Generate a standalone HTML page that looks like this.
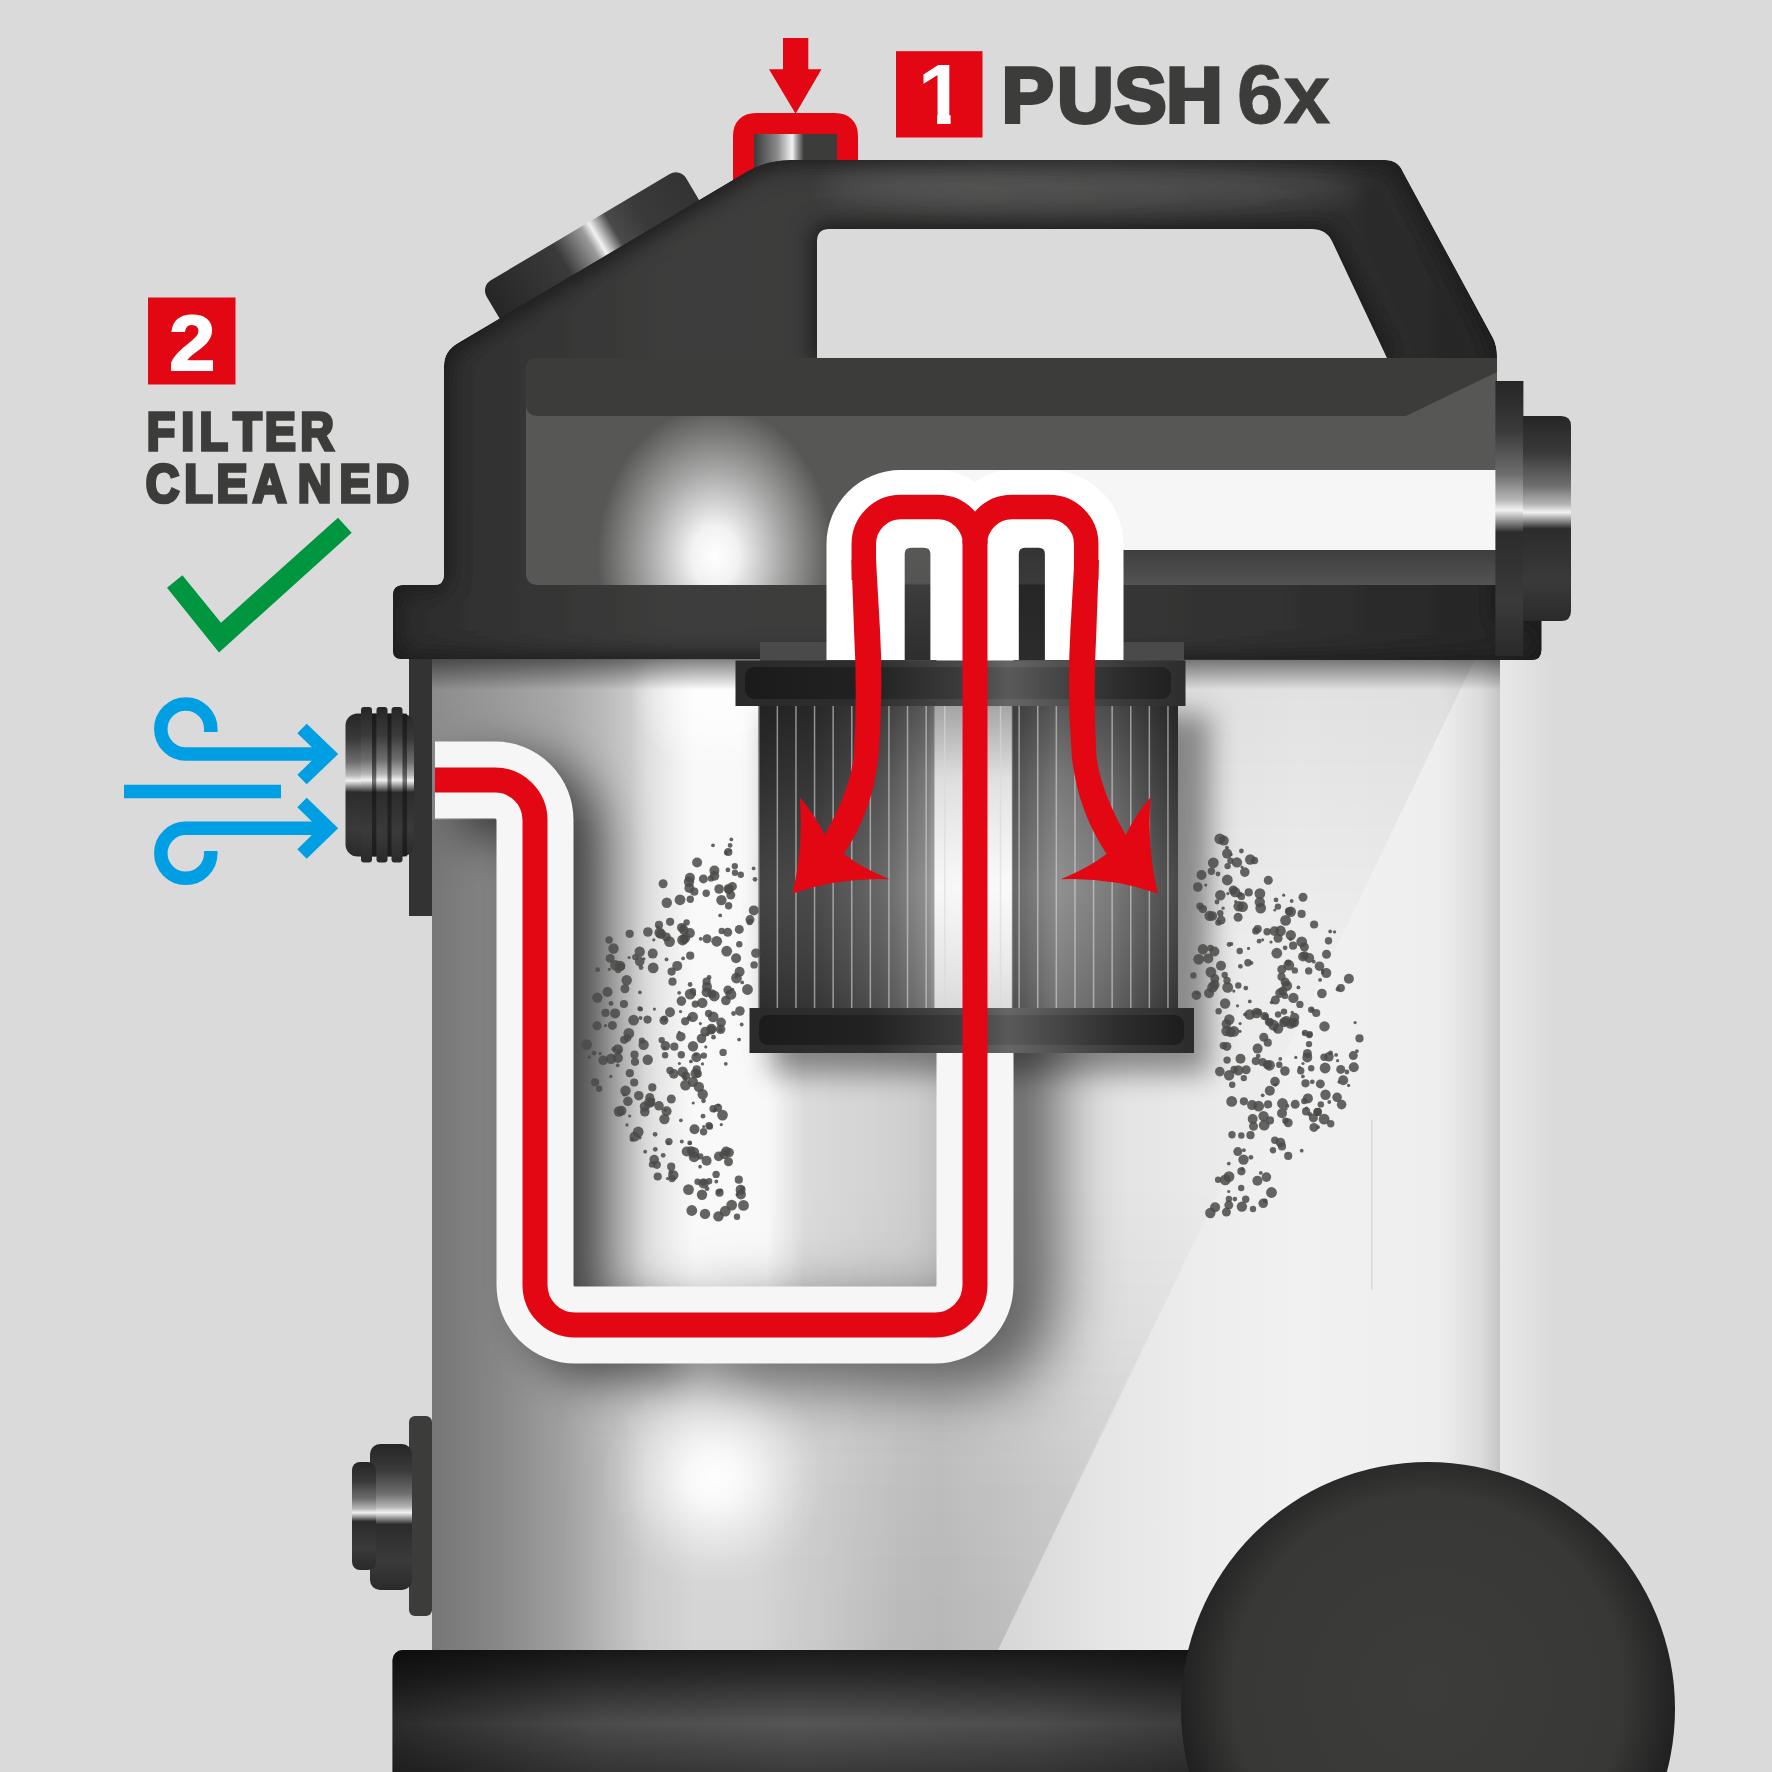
<!DOCTYPE html>
<html><head><meta charset="utf-8"><title>Filter cleaning</title>
<style>html,body{margin:0;padding:0;background:#dadada;overflow:hidden}svg{display:block}</style></head>
<body><svg width="1772" height="1772" viewBox="0 0 1772 1772">
<defs>
<linearGradient id="tank" x1="432" x2="1500" y1="0" y2="0" gradientUnits="userSpaceOnUse">
 <stop offset="0.0000" stop-color="#8c8c8c"/>
 <stop offset="0.0637" stop-color="#9a9a9a"/>
 <stop offset="0.1199" stop-color="#a8a8a8"/>
 <stop offset="0.1601" stop-color="#bababa"/>
 <stop offset="0.2022" stop-color="#d4d4d4"/>
 <stop offset="0.2444" stop-color="#e0e0e0"/>
 <stop offset="0.2931" stop-color="#e0e0e0"/>
 <stop offset="0.3446" stop-color="#dcdcdc"/>
 <stop offset="0.4101" stop-color="#d6d6d6"/>
 <stop offset="0.4757" stop-color="#d0d0d0"/>
 <stop offset="0.5421" stop-color="#d8d8d8"/>
 <stop offset="0.6255" stop-color="#e5e5e5"/>
 <stop offset="0.7191" stop-color="#ededed"/>
 <stop offset="0.8127" stop-color="#f1f1f1"/>
 <stop offset="0.9438" stop-color="#eeeeee"/>
 <stop offset="0.9813" stop-color="#dcdcdc"/>
 <stop offset="1.0000" stop-color="#c6c6c6"/>
</linearGradient>
<linearGradient id="diag" x1="1000" x2="1500" y1="0" y2="0" gradientUnits="userSpaceOnUse">
 <stop offset="0" stop-color="#f4f4f4"/>
 <stop offset="0.7" stop-color="#f0f0f0"/>
 <stop offset="1" stop-color="#e8e8e8"/>
</linearGradient>
<radialGradient id="glowW"><stop offset="0" stop-color="#fff" stop-opacity="1"/><stop offset="0.45" stop-color="#fff" stop-opacity=".6"/><stop offset="1" stop-color="#fff" stop-opacity="0"/></radialGradient>
<linearGradient id="lidsh" x1="0" x2="0" y1="655" y2="690" gradientUnits="userSpaceOnUse"><stop offset="0" stop-color="#000" stop-opacity=".55"/><stop offset="1" stop-color="#000" stop-opacity="0"/></linearGradient>
<linearGradient id="base" x1="0" x2="0" y1="1650" y2="1772" gradientUnits="userSpaceOnUse">
 <stop offset="0" stop-color="#1a1a1a"/><stop offset="0.2" stop-color="#2a2a2a"/><stop offset="0.6" stop-color="#555"/><stop offset="1" stop-color="#3a3a3a"/>
</linearGradient>
<radialGradient id="wheel" cx="1428" cy="1690" r="260" gradientUnits="userSpaceOnUse">
 <stop offset="0" stop-color="#3c3c3b"/><stop offset="0.75" stop-color="#383837"/><stop offset="1" stop-color="#1c1c1c"/>
</radialGradient>
<linearGradient id="lidg" x1="393" x2="1540" y1="0" y2="0" gradientUnits="userSpaceOnUse">
 <stop offset="0" stop-color="#2a2a2a"/><stop offset="0.1" stop-color="#333"/><stop offset="0.25" stop-color="#3d3d3c"/><stop offset="0.5" stop-color="#3b3b3a"/><stop offset="0.8" stop-color="#2f2f2f"/><stop offset="1" stop-color="#232323"/>
</linearGradient>
<linearGradient id="chromeV" x1="0" x2="0" y1="0" y2="1">
 <stop offset="0" stop-color="#262626"/><stop offset="0.18" stop-color="#3a3a3a"/><stop offset="0.34" stop-color="#6e6e6e"/><stop offset="0.43" stop-color="#b4b4b4"/><stop offset="0.47" stop-color="#f2f2f2"/><stop offset="0.55" stop-color="#2c2c2c"/><stop offset="0.8" stop-color="#3a3a3a"/><stop offset="1" stop-color="#2a2a2a"/>
</linearGradient>
<linearGradient id="chromeH" x1="0" x2="1" y1="0" y2="0">
 <stop offset="0" stop-color="#262626"/><stop offset="0.36" stop-color="#3a3a3a"/><stop offset="0.5" stop-color="#9a9a9a"/><stop offset="0.54" stop-color="#f2f2f2"/><stop offset="0.62" stop-color="#4a4a4a"/><stop offset="0.75" stop-color="#3a3a3a"/><stop offset="1" stop-color="#333"/>
</linearGradient>
<linearGradient id="btn" x1="0" x2="1" y1="0" y2="0">
 <stop offset="0" stop-color="#3a3a3a"/><stop offset="0.28" stop-color="#8a8a8a"/><stop offset="0.46" stop-color="#f4f4f4"/><stop offset="0.52" stop-color="#9a9a9a"/><stop offset="0.6" stop-color="#3c3c3b"/><stop offset="1" stop-color="#3c3c3b"/>
</linearGradient>
<radialGradient id="glowP"><stop offset="0" stop-color="#fff" stop-opacity="1"/><stop offset="0.2" stop-color="#fff" stop-opacity=".92"/><stop offset="0.55" stop-color="#fff" stop-opacity=".5"/><stop offset="1" stop-color="#fff" stop-opacity="0"/></radialGradient>
<linearGradient id="dband" x1="0" x2="0" y1="550" y2="586" gradientUnits="userSpaceOnUse"><stop offset="0" stop-color="#3e3e3e"/><stop offset="1" stop-color="#545454"/></linearGradient>
<linearGradient id="filt" x1="758" x2="1178" y1="0" y2="0" gradientUnits="userSpaceOnUse">
 <stop offset="0" stop-color="#333"/><stop offset="0.14" stop-color="#3c3c3c"/><stop offset="0.30" stop-color="#5c5c5c"/><stop offset="0.40" stop-color="#858585"/>
 <stop offset="0.418" stop-color="#9a9a9a"/><stop offset="0.422" stop-color="#f6f6f6"/><stop offset="0.603" stop-color="#fafafa"/><stop offset="0.607" stop-color="#5a5a5a"/>
 <stop offset="0.72" stop-color="#868686"/><stop offset="0.84" stop-color="#707070"/><stop offset="0.95" stop-color="#484848"/><stop offset="1" stop-color="#3a3a3a"/>
</linearGradient>
<linearGradient id="filtV" x1="0" x2="0" y1="702" y2="1010" gradientUnits="userSpaceOnUse">
 <stop offset="0" stop-color="#000" stop-opacity=".35"/><stop offset="0.25" stop-color="#000" stop-opacity=".1"/><stop offset="0.6" stop-color="#fff" stop-opacity=".08"/><stop offset="1" stop-color="#000" stop-opacity=".12"/>
</linearGradient>
<linearGradient id="capg" x1="735" x2="1190" y1="0" y2="0" gradientUnits="userSpaceOnUse">
 <stop offset="0" stop-color="#2a2a2a"/><stop offset="0.3" stop-color="#2e2e2e"/><stop offset="0.5" stop-color="#4a4a4a"/><stop offset="0.6" stop-color="#666"/><stop offset="0.85" stop-color="#3a3a3a"/><stop offset="1" stop-color="#2c2c2c"/>
</linearGradient>
<linearGradient id="capi" x1="735" x2="1190" y1="0" y2="0" gradientUnits="userSpaceOnUse">
 <stop offset="0" stop-color="#1a1a1a"/><stop offset="0.3" stop-color="#222"/><stop offset="0.5" stop-color="#3c3c3c"/><stop offset="0.6" stop-color="#5a5a5a"/><stop offset="0.85" stop-color="#2c2c2c"/><stop offset="1" stop-color="#1c1c1c"/>
</linearGradient>
<linearGradient id="slotL" x1="0" x2="0" y1="547" y2="660" gradientUnits="userSpaceOnUse">
 <stop offset="0" stop-color="#585857"/><stop offset="0.32" stop-color="#545453"/><stop offset="0.34" stop-color="#3c3c3c"/><stop offset="1" stop-color="#2e2e2e"/>
</linearGradient>
<linearGradient id="slotR" x1="0" x2="0" y1="547" y2="660" gradientUnits="userSpaceOnUse">
 <stop offset="0" stop-color="#343434"/><stop offset="0.32" stop-color="#3a3a3a"/><stop offset="0.34" stop-color="#262626"/><stop offset="1" stop-color="#2c2c2c"/>
</linearGradient>
<linearGradient id="slot" x1="0" x2="0" y1="547" y2="660" gradientUnits="userSpaceOnUse">
 <stop offset="0" stop-color="#5a5a5a"/><stop offset="0.35" stop-color="#4a4a4a"/><stop offset="1" stop-color="#3a3a3a"/>
</linearGradient>
<linearGradient id="leftdk" x1="432" x2="607" y1="0" y2="0" gradientUnits="userSpaceOnUse"><stop offset="0" stop-color="#000" stop-opacity=".16"/><stop offset="0.37" stop-color="#000" stop-opacity=".12"/><stop offset="1" stop-color="#000" stop-opacity="0"/></linearGradient>
<linearGradient id="leftdk2" x1="497" x2="607" y1="0" y2="0" gradientUnits="userSpaceOnUse"><stop offset="0" stop-color="#000" stop-opacity=".12"/><stop offset="1" stop-color="#000" stop-opacity="0"/></linearGradient>
<linearGradient id="diagdk" x1="0" x2="0" y1="655" y2="1650" gradientUnits="userSpaceOnUse">
<stop offset="0" stop-color="#000" stop-opacity=".065"/><stop offset="0.3" stop-color="#000" stop-opacity="0.01"/><stop offset="0.52" stop-color="#000" stop-opacity="0.01"/><stop offset="0.75" stop-color="#000" stop-opacity=".05"/><stop offset="1" stop-color="#000" stop-opacity=".07"/></linearGradient>
<linearGradient id="dmaskg" x1="760" x2="900" y1="0" y2="0" gradientUnits="userSpaceOnUse"><stop offset="0" stop-color="#000"/><stop offset="1" stop-color="#fff"/></linearGradient>
<mask id="dmask" maskUnits="userSpaceOnUse" x="432" y="655" width="1068" height="995"><rect x="432" y="655" width="1068" height="995" fill="url(#dmaskg)"/></mask>
<linearGradient id="rstrip" x1="1500" x2="1556" y1="0" y2="0" gradientUnits="userSpaceOnUse"><stop offset="0" stop-color="#e8e8e8"/><stop offset="1" stop-color="#dadada"/></linearGradient>
<filter id="b24" filterUnits="userSpaceOnUse" x="300" y="100" width="1400" height="1672"><feGaussianBlur stdDeviation="24"/></filter>
<filter id="b32" filterUnits="userSpaceOnUse" x="300" y="100" width="1400" height="1672"><feGaussianBlur stdDeviation="32"/></filter>
<linearGradient id="baseL" x1="392" x2="1200" y1="0" y2="0" gradientUnits="userSpaceOnUse"><stop offset="0" stop-color="#000" stop-opacity=".5"/><stop offset="0.25" stop-color="#000" stop-opacity=".12"/><stop offset="0.5" stop-color="#000" stop-opacity="0"/><stop offset="0.8" stop-color="#000" stop-opacity=".1"/><stop offset="1" stop-color="#000" stop-opacity=".3"/></linearGradient>
<linearGradient id="wband" x1="630" x2="820" y1="0" y2="0" gradientUnits="userSpaceOnUse"><stop offset="0" stop-color="#fff" stop-opacity="0"/><stop offset="0.33" stop-color="#fff" stop-opacity=".8"/><stop offset="0.72" stop-color="#fff" stop-opacity=".8"/><stop offset="0.92" stop-color="#fff" stop-opacity="0"/><stop offset="1" stop-color="#fff" stop-opacity="0"/></linearGradient>
<linearGradient id="botdk" x1="0" x2="0" y1="1330" y2="1650" gradientUnits="userSpaceOnUse"><stop offset="0" stop-color="#000" stop-opacity="0"/><stop offset="0.5" stop-color="#000" stop-opacity=".035"/><stop offset="1" stop-color="#000" stop-opacity=".05"/></linearGradient>
<linearGradient id="dmaskg2" x1="540" x2="680" y1="0" y2="0" gradientUnits="userSpaceOnUse"><stop offset="0" stop-color="#000"/><stop offset="1" stop-color="#fff"/></linearGradient>
<mask id="dmask2" maskUnits="userSpaceOnUse" x="432" y="1300" width="1068" height="360"><rect x="432" y="1300" width="1068" height="360" fill="url(#dmaskg2)"/></mask>
<radialGradient id="glowB"><stop offset="0" stop-color="#fff" stop-opacity=".97"/><stop offset="0.22" stop-color="#fff" stop-opacity=".85"/><stop offset="0.55" stop-color="#fff" stop-opacity=".4"/><stop offset="0.8" stop-color="#fff" stop-opacity=".12"/><stop offset="1" stop-color="#fff" stop-opacity="0"/></radialGradient>
<filter id="b8" filterUnits="userSpaceOnUse" x="300" y="100" width="1400" height="1672"><feGaussianBlur stdDeviation="8"/></filter>
<filter id="b14" filterUnits="userSpaceOnUse" x="300" y="100" width="1400" height="1672"><feGaussianBlur stdDeviation="14"/></filter>
<filter id="b20" filterUnits="userSpaceOnUse" x="300" y="100" width="1400" height="1672"><feGaussianBlur stdDeviation="20"/></filter>
<clipPath id="tankclip"><rect x="432" y="655" width="1068" height="995"/></clipPath>
<clipPath id="pclip"><rect x="526" y="358" width="600" height="227" rx="12"/></clipPath>
<clipPath id="lidclip"><path d="M401,659 Q393,659 393,651 V595 Q393,585 403,585 H434 Q444,585 444,575 V366 Q444,351 458,343 L747,171.5 Q767,160 790,160 H1385 Q1398,160 1403,172 L1493,338 Q1497,346 1497,357 V621 H1541.5 V650 Q1541.5,660 1531.5,660 Z M817,358 V241 Q817,229 829,229 H1312 Q1326,229 1332,241 L1387,358 Z" clip-rule="evenodd"/></clipPath><filter id="inset" x="-5%" y="-5%" width="110%" height="110%"><feMorphology in="SourceAlpha" operator="erode" radius="5" result="e"/><feGaussianBlur in="e" stdDeviation="11" result="b"/><feComposite in="SourceGraphic" in2="b" operator="in"/></filter><clipPath id="rimclip"><rect x="380" y="585" width="1200" height="80"/></clipPath></defs>
<rect width="1772" height="1772" fill="#dadada"/>
<rect x="409" y="650" width="27" height="266" fill="#333"/>
<rect x="1500" y="660" width="56" height="990" fill="url(#rstrip)"/>
<g clip-path="url(#tankclip)">
<rect x="432" y="655" width="1068" height="995" fill="url(#tank)"/>
<rect x="630" y="655" width="190" height="640" fill="url(#wband)"/>
<polygon points="1477,655 432,655 432,1650 998,1650" fill="url(#diagdk)" mask="url(#dmask)"/>
<polygon points="1150,1330 520,1330 520,1650 998,1650" fill="url(#botdk)" mask="url(#dmask2)"/>
<rect x="1371" y="1120" width="1.5" height="170" fill="#ccc" opacity=".6"/>
<ellipse cx="720" cy="700" rx="90" ry="70" fill="url(#glowW)" opacity=".8"/>
<path d="M432,780 H495 A40,40 0 0 1 535,820 V1285 A40,40 0 0 0 575,1325 H660" fill="none" stroke="#000" stroke-opacity=".6" stroke-width="78" filter="url(#b24)" transform="translate(28,17)"/>
<path d="M660,1325 H935 A40,40 0 0 0 975,1285 V640" fill="none" stroke="#000" stroke-opacity=".58" stroke-width="78" filter="url(#b32)" transform="translate(40,20)"/>
<path d="M432,820 H607 V1650 H432Z" fill="url(#leftdk)"/>
<rect x="760" y="700" width="440" height="360" fill="#000" opacity=".4" filter="url(#b14)" transform="translate(10,14)"/>
<rect x="432" y="655" width="1068" height="35" fill="url(#lidsh)"/>
<ellipse cx="715" cy="1478" rx="112" ry="108" fill="url(#glowB)"/>
</g>
<rect x="409" y="1416" width="23" height="200" rx="6" fill="#3c3c3b"/>
<rect x="370" y="1444" width="42" height="146" rx="10" fill="url(#chromeV)"/>
<rect x="352" y="1462" width="24" height="108" rx="8" fill="url(#chromeV)"/>
<rect x="345.5" y="713.5" width="68.5" height="143" rx="12" fill="url(#chromeV)"/>
<rect x="361" y="707" width="11" height="155.5" rx="3" fill="url(#chromeV)"/>
<rect x="372" y="713.5" width="4.5" height="143" fill="#111" opacity=".55"/>
<rect x="376.5" y="707" width="11" height="155.5" rx="3" fill="url(#chromeV)"/>
<rect x="387.5" y="713.5" width="4.5" height="143" fill="#111" opacity=".55"/>
<rect x="391.5" y="707" width="11" height="155.5" rx="3" fill="url(#chromeV)"/>
<rect x="402.5" y="713.5" width="4.5" height="143" fill="#111" opacity=".55"/>
<rect x="392.5" y="1650" width="1120" height="140" rx="10" fill="url(#base)"/>
<rect x="392.5" y="1650" width="1120" height="140" rx="10" fill="url(#baseL)"/>
<circle cx="1428" cy="1709" r="247" fill="url(#wheel)"/>
<g transform="translate(502,322.5) rotate(-30.7)"><rect x="0" y="-42" width="232" height="60" rx="12" fill="url(#chromeH)"/></g>
<rect x="754" y="134" width="83" height="40" fill="url(#btn)"/>
<path d="M743.5,185 V136 Q743.5,123.5 756,123.5 H835 Q847.5,123.5 847.5,136 V165" fill="none" stroke="#e30613" stroke-width="21"/>
<path d="M783,38 H808.3 V69.3 H821.5 L795.6,113.8 L769,69.3 H783Z" fill="#e30613"/>
<g clip-path="url(#lidclip)">
<path d="M401,659 Q393,659 393,651 V595 Q393,585 403,585 H434 Q444,585 444,575 V366 Q444,351 458,343 L747,171.5 Q767,160 790,160 H1385 Q1398,160 1403,172 L1493,338 Q1497,346 1497,357 V621 H1541.5 V650 Q1541.5,660 1531.5,660 Z" fill="#1b1b1b"/>
<path d="M401,659 Q393,659 393,651 V595 Q393,585 403,585 H434 Q444,585 444,575 V366 Q444,351 458,343 L747,171.5 Q767,160 790,160 H1385 Q1398,160 1403,172 L1493,338 Q1497,346 1497,357 V621 H1541.5 V650 Q1541.5,660 1531.5,660 Z M817,358 V241 Q817,229 829,229 H1312 Q1326,229 1332,241 L1387,358 Z" fill-rule="evenodd" fill="url(#lidg)" filter="url(#inset)"/>
<ellipse cx="1091" cy="186" rx="270" ry="24" fill="#fff" opacity=".13" filter="url(#b14)"/>
</g>
<path d="M538,358 H1497 V585 H538 Q526,585 526,573 V370 Q526,358 538,358Z" fill="#575756"/>
<ellipse cx="715" cy="556" rx="118" ry="150" fill="url(#glowP)" clip-path="url(#pclip)"/>
<path d="M538,358 H1497 V372 L1406,416 H538 Q526,416 526,404 V370 Q526,358 538,358Z" fill="#3c3c3b"/>
<rect x="900" y="470" width="598" height="80" fill="#f6f6f6"/>
<rect x="900" y="550" width="598" height="36" fill="url(#dband)"/>
<g clip-path="url(#rimclip)"><g clip-path="url(#lidclip)">
<path d="M401,659 Q393,659 393,651 V595 Q393,585 403,585 H434 Q444,585 444,575 V366 Q444,351 458,343 L747,171.5 Q767,160 790,160 H1385 Q1398,160 1403,172 L1493,338 Q1497,346 1497,357 V621 H1541.5 V650 Q1541.5,660 1531.5,660 Z" fill="#1b1b1b"/>
<path d="M401,659 Q393,659 393,651 V595 Q393,585 403,585 H434 Q444,585 444,575 V366 Q444,351 458,343 L747,171.5 Q767,160 790,160 H1385 Q1398,160 1403,172 L1493,338 Q1497,346 1497,357 V621 H1541.5 V650 Q1541.5,660 1531.5,660 Z M817,358 V241 Q817,229 829,229 H1312 Q1326,229 1332,241 L1387,358 Z" fill-rule="evenodd" fill="url(#lidg)" filter="url(#inset)"/>
</g></g>
<rect x="1495.4" y="381" width="28" height="275" fill="url(#chromeV)"/>
<path d="M1523,416 H1561 Q1571,416 1571,426 V611 Q1571,621 1561,621 H1523Z" fill="url(#chromeV)"/>
<rect x="760" y="642" width="424" height="22" fill="#4a4a4a"/>
<path d="M435,780 H495 A40,40 0 0 1 535,820 V1285 A40,40 0 0 0 575,1325 H935 A40,40 0 0 0 975,1285 V660" fill="none" stroke="#f6f6f6" stroke-width="77"/>
<path d="M826.5,660 V544 A74,74 0 0 1 900.5,470 H938 Q960,470 975,482.5 Q990,470 1012,470 H1049.5 A74,74 0 0 1 1123.5,544 V660Z" fill="#fff"/>
<path d="M904.7,660 V554 Q904.7,547.8 911,547.8 H924 Q930.4,547.8 930.4,554 V660Z" fill="url(#slotL)"/>
<path d="M1018.8,660 V554 Q1018.8,547.8 1025,547.8 H1038.6 Q1044.9,547.8 1044.9,554 V660Z" fill="url(#slotR)"/>
<rect x="758" y="700" width="420" height="312" fill="url(#filt)"/>
<rect x="758" y="700" width="420" height="312" fill="url(#filtV)"/>
<rect x="758.0" y="704" width="1.5" height="306" fill="#d8d8d8" opacity=".6"/>
<rect x="776.6" y="704" width="1.5" height="306" fill="#d8d8d8" opacity=".6"/>
<rect x="795.2" y="704" width="1.5" height="306" fill="#d8d8d8" opacity=".6"/>
<rect x="813.8" y="704" width="1.5" height="306" fill="#d8d8d8" opacity=".6"/>
<rect x="832.4" y="704" width="1.5" height="306" fill="#d8d8d8" opacity=".6"/>
<rect x="851.0" y="704" width="1.5" height="306" fill="#d8d8d8" opacity=".6"/>
<rect x="869.6" y="704" width="1.5" height="306" fill="#d8d8d8" opacity=".6"/>
<rect x="888.2" y="704" width="1.5" height="306" fill="#d8d8d8" opacity=".6"/>
<rect x="906.8" y="704" width="1.5" height="306" fill="#d8d8d8" opacity=".6"/>
<rect x="925.4" y="704" width="1.5" height="306" fill="#d8d8d8" opacity=".6"/>
<rect x="944.0" y="704" width="1.5" height="306" fill="#d8d8d8" opacity=".6"/>
<rect x="962.6" y="704" width="1.5" height="306" fill="#d8d8d8" opacity=".6"/>
<rect x="981.2" y="704" width="1.5" height="306" fill="#d8d8d8" opacity=".6"/>
<rect x="999.8" y="704" width="1.5" height="306" fill="#d8d8d8" opacity=".6"/>
<rect x="1018.4" y="704" width="1.5" height="306" fill="#d8d8d8" opacity=".6"/>
<rect x="1037.0" y="704" width="1.5" height="306" fill="#d8d8d8" opacity=".6"/>
<rect x="1055.6" y="704" width="1.5" height="306" fill="#d8d8d8" opacity=".6"/>
<rect x="1074.2" y="704" width="1.5" height="306" fill="#d8d8d8" opacity=".6"/>
<rect x="1092.8" y="704" width="1.5" height="306" fill="#d8d8d8" opacity=".6"/>
<rect x="1111.4" y="704" width="1.5" height="306" fill="#d8d8d8" opacity=".6"/>
<rect x="1130.0" y="704" width="1.5" height="306" fill="#d8d8d8" opacity=".6"/>
<rect x="1148.6" y="704" width="1.5" height="306" fill="#d8d8d8" opacity=".6"/>
<rect x="1167.2" y="704" width="1.5" height="306" fill="#d8d8d8" opacity=".6"/>
<rect x="735.5" y="660.5" width="450" height="45.5" fill="url(#capg)"/>
<rect x="745" y="667" width="426" height="32" rx="9" fill="url(#capi)"/>
<rect x="749.5" y="1008" width="444.5" height="45" fill="url(#capg)"/>
<rect x="759" y="1015" width="425" height="30" rx="9" fill="url(#capi)"/>
<g fill="#4a4a49" fill-opacity=".85"><circle cx="617.8" cy="1049.4" r="5.2"/><circle cx="689.7" cy="1142.9" r="2.4"/><circle cx="726.7" cy="951.2" r="5.4"/><circle cx="725.2" cy="1211.2" r="5.4"/><circle cx="679.4" cy="1063.5" r="1.6"/><circle cx="681.8" cy="927.7" r="4.8"/><circle cx="643.9" cy="958.8" r="1.6"/><circle cx="741.7" cy="1024.5" r="1.9"/><circle cx="639.9" cy="992.3" r="1.9"/><circle cx="657.9" cy="927.1" r="1.9"/><circle cx="629.7" cy="1116.0" r="1.6"/><circle cx="691.8" cy="1210.5" r="5.4"/><circle cx="753.6" cy="868.4" r="1.9"/><circle cx="659.0" cy="1105.8" r="4.8"/><circle cx="613.9" cy="1049.2" r="2.4"/><circle cx="718.4" cy="1216.4" r="5.2"/><circle cx="705.0" cy="1213.9" r="5.2"/><circle cx="613.5" cy="948.5" r="5.2"/><circle cx="727.9" cy="869.9" r="2.4"/><circle cx="720.5" cy="1029.9" r="2.4"/><circle cx="692.9" cy="991.2" r="3.2"/><circle cx="685.9" cy="1075.9" r="4.5"/><circle cx="600.1" cy="1053.6" r="1.6"/><circle cx="659.6" cy="932.7" r="5.2"/><circle cx="707.3" cy="1034.2" r="1.9"/><circle cx="664.3" cy="1018.6" r="3.2"/><circle cx="639.7" cy="961.6" r="4.8"/><circle cx="726.3" cy="852.8" r="2.4"/><circle cx="689.4" cy="888.0" r="5.0"/><circle cx="609.1" cy="940.0" r="3.7"/><circle cx="714.5" cy="875.9" r="4.8"/><circle cx="728.3" cy="852.0" r="4.1"/><circle cx="649.8" cy="1097.4" r="4.5"/><circle cx="663.1" cy="883.8" r="4.5"/><circle cx="681.3" cy="1054.7" r="3.7"/><circle cx="692.9" cy="1081.9" r="5.2"/><circle cx="670.0" cy="1012.2" r="5.0"/><circle cx="617.7" cy="1065.3" r="1.9"/><circle cx="670.0" cy="1070.4" r="3.7"/><circle cx="696.7" cy="1069.3" r="4.1"/><circle cx="685.2" cy="1021.3" r="4.1"/><circle cx="721.7" cy="931.0" r="3.2"/><circle cx="639.7" cy="1008.7" r="2.4"/><circle cx="609.3" cy="969.3" r="1.6"/><circle cx="654.2" cy="1159.6" r="4.8"/><circle cx="688.5" cy="1189.6" r="5.4"/><circle cx="718.7" cy="1156.4" r="4.8"/><circle cx="693.8" cy="1152.4" r="5.4"/><circle cx="705.8" cy="1046.9" r="1.6"/><circle cx="708.6" cy="1013.4" r="3.7"/><circle cx="719.1" cy="889.0" r="4.8"/><circle cx="661.7" cy="1040.1" r="3.2"/><circle cx="652.7" cy="953.6" r="5.0"/><circle cx="737.0" cy="1216.8" r="3.2"/><circle cx="718.4" cy="1192.2" r="2.4"/><circle cx="753.8" cy="910.4" r="5.0"/><circle cx="700.3" cy="1156.4" r="3.2"/><circle cx="700.1" cy="1166.7" r="1.9"/><circle cx="738.8" cy="1179.7" r="4.1"/><circle cx="665.4" cy="1110.1" r="1.6"/><circle cx="665.4" cy="1045.8" r="4.8"/><circle cx="677.2" cy="965.9" r="5.0"/><circle cx="634.5" cy="1136.8" r="5.0"/><circle cx="680.8" cy="1036.7" r="4.8"/><circle cx="705.3" cy="1031.7" r="5.0"/><circle cx="621.4" cy="1110.7" r="5.0"/><circle cx="643.6" cy="1044.8" r="5.2"/><circle cx="706.6" cy="1160.8" r="5.0"/><circle cx="605.5" cy="1025.6" r="1.6"/><circle cx="689.0" cy="881.7" r="5.2"/><circle cx="627.9" cy="1101.3" r="4.8"/><circle cx="681.4" cy="1001.1" r="4.8"/><circle cx="667.5" cy="1178.6" r="1.6"/><circle cx="694.3" cy="994.0" r="1.9"/><circle cx="617.9" cy="1058.0" r="5.0"/><circle cx="689.9" cy="877.7" r="5.0"/><circle cx="641.9" cy="1040.6" r="3.2"/><circle cx="665.1" cy="1055.3" r="3.2"/><circle cx="611.1" cy="1058.7" r="5.2"/><circle cx="742.5" cy="1188.4" r="2.4"/><circle cx="666.4" cy="937.0" r="4.5"/><circle cx="713.2" cy="1016.9" r="5.4"/><circle cx="670.1" cy="921.8" r="4.1"/><circle cx="711.4" cy="1028.7" r="5.0"/><circle cx="666.6" cy="1111.3" r="5.0"/><circle cx="639.7" cy="1137.6" r="1.9"/><circle cx="694.1" cy="1156.8" r="5.4"/><circle cx="679.3" cy="1032.4" r="1.6"/><circle cx="694.3" cy="891.7" r="4.1"/><circle cx="615.1" cy="1013.4" r="5.0"/><circle cx="730.9" cy="994.4" r="5.4"/><circle cx="674.3" cy="1046.7" r="4.1"/><circle cx="709.1" cy="977.4" r="2.4"/><circle cx="733.6" cy="1013.5" r="2.4"/><circle cx="644.8" cy="1111.8" r="4.8"/><circle cx="673.3" cy="1175.1" r="5.2"/><circle cx="684.0" cy="939.5" r="4.5"/><circle cx="739.1" cy="1039.6" r="1.9"/><circle cx="709.1" cy="1181.2" r="3.2"/><circle cx="624.9" cy="988.8" r="4.5"/><circle cx="661.0" cy="934.0" r="5.0"/><circle cx="743.5" cy="1205.4" r="5.4"/><circle cx="702.5" cy="1063.9" r="1.6"/><circle cx="740.9" cy="1194.5" r="5.0"/><circle cx="666.8" cy="902.8" r="5.2"/><circle cx="627.6" cy="1038.1" r="3.7"/><circle cx="698.9" cy="1086.9" r="5.2"/><circle cx="730.8" cy="895.0" r="4.5"/><circle cx="690.2" cy="955.7" r="4.1"/><circle cx="697.6" cy="1181.8" r="3.2"/><circle cx="735.0" cy="872.7" r="3.2"/><circle cx="683.9" cy="930.1" r="4.8"/><circle cx="656.8" cy="1164.8" r="4.1"/><circle cx="625.5" cy="1090.8" r="5.2"/><circle cx="695.3" cy="1004.1" r="3.7"/><circle cx="739.6" cy="971.8" r="5.0"/><circle cx="702.3" cy="1002.9" r="5.2"/><circle cx="635.3" cy="957.1" r="3.2"/><circle cx="685.5" cy="1085.1" r="5.4"/><circle cx="700.7" cy="938.8" r="1.9"/><circle cx="669.5" cy="941.6" r="5.4"/><circle cx="659.0" cy="924.9" r="4.1"/><circle cx="680.9" cy="1120.3" r="1.9"/><circle cx="721.1" cy="1022.4" r="4.8"/><circle cx="629.7" cy="933.8" r="4.1"/><circle cx="663.2" cy="1155.3" r="2.4"/><circle cx="736.7" cy="976.4" r="1.9"/><circle cx="725.9" cy="1000.5" r="4.8"/><circle cx="638.2" cy="1132.0" r="5.4"/><circle cx="697.8" cy="1073.8" r="4.1"/><circle cx="728.7" cy="889.7" r="4.1"/><circle cx="690.2" cy="994.1" r="5.4"/><circle cx="663.9" cy="1020.4" r="4.5"/><circle cx="595.1" cy="1082.3" r="4.1"/><circle cx="702.7" cy="1094.3" r="5.2"/><circle cx="690.1" cy="984.5" r="2.4"/><circle cx="709.0" cy="1125.7" r="3.7"/><circle cx="621.3" cy="966.8" r="3.7"/><circle cx="725.8" cy="1063.8" r="1.9"/><circle cx="653.8" cy="939.8" r="1.6"/><circle cx="716.7" cy="941.3" r="5.4"/><circle cx="718.0" cy="1107.8" r="4.1"/><circle cx="739.9" cy="1011.0" r="4.8"/><circle cx="690.3" cy="1143.2" r="1.6"/><circle cx="726.0" cy="1151.4" r="4.8"/><circle cx="690.9" cy="1061.4" r="1.9"/><circle cx="714.3" cy="996.0" r="5.4"/><circle cx="690.3" cy="899.2" r="3.7"/><circle cx="716.1" cy="1174.4" r="3.7"/><circle cx="632.1" cy="1139.4" r="2.4"/><circle cx="603.1" cy="1060.3" r="4.8"/><circle cx="641.0" cy="967.6" r="2.4"/><circle cx="729.1" cy="1152.6" r="4.8"/><circle cx="681.8" cy="1141.5" r="1.9"/><circle cx="750.0" cy="919.6" r="4.5"/><circle cx="653.7" cy="1099.7" r="1.6"/><circle cx="671.6" cy="971.6" r="4.1"/><circle cx="739.3" cy="929.4" r="4.5"/><circle cx="736.1" cy="958.3" r="5.0"/><circle cx="664.4" cy="1119.1" r="5.2"/><circle cx="730.1" cy="845.4" r="2.4"/><circle cx="720.2" cy="915.4" r="1.9"/><circle cx="695.5" cy="1073.5" r="5.0"/><circle cx="686.7" cy="1151.5" r="5.0"/><circle cx="664.6" cy="1048.1" r="1.9"/><circle cx="682.2" cy="926.1" r="1.9"/><circle cx="734.8" cy="866.1" r="3.2"/><circle cx="711.0" cy="878.4" r="3.2"/><circle cx="599.1" cy="1088.7" r="3.2"/><circle cx="722.5" cy="1115.1" r="5.4"/><circle cx="645.2" cy="1151.7" r="1.9"/><circle cx="610.8" cy="1076.4" r="1.6"/><circle cx="619.1" cy="1051.4" r="2.4"/><circle cx="647.5" cy="1019.6" r="4.1"/><circle cx="688.9" cy="1018.1" r="2.4"/><circle cx="654.4" cy="1009.1" r="1.6"/><circle cx="703.8" cy="1055.6" r="3.2"/><circle cx="634.5" cy="1054.7" r="4.1"/><circle cx="623.9" cy="1004.0" r="4.1"/><circle cx="713.1" cy="1108.8" r="3.7"/><circle cx="618.2" cy="970.0" r="3.2"/><circle cx="666.5" cy="959.4" r="1.9"/><circle cx="640.5" cy="1018.0" r="1.9"/><circle cx="611.0" cy="1003.4" r="2.4"/><circle cx="594.0" cy="1053.1" r="2.4"/><circle cx="702.0" cy="1194.8" r="5.2"/><circle cx="719.5" cy="1192.7" r="4.1"/><circle cx="695.8" cy="1054.7" r="1.9"/><circle cx="747.5" cy="989.5" r="5.4"/><circle cx="721.3" cy="1124.6" r="1.6"/><circle cx="679.2" cy="992.8" r="1.9"/><circle cx="639.7" cy="951.8" r="5.2"/><circle cx="680.0" cy="899.8" r="5.4"/><circle cx="605.5" cy="1012.9" r="4.1"/><circle cx="673.8" cy="1073.9" r="4.8"/><circle cx="597.0" cy="1025.8" r="4.5"/><circle cx="703.4" cy="878.9" r="4.5"/><circle cx="711.8" cy="993.7" r="4.5"/><circle cx="723.1" cy="1052.4" r="3.7"/><circle cx="709.9" cy="1126.4" r="3.2"/><circle cx="707.0" cy="986.9" r="5.0"/><circle cx="634.2" cy="1082.5" r="4.1"/><circle cx="692.8" cy="1016.9" r="5.2"/><circle cx="697.1" cy="862.5" r="5.0"/><circle cx="700.4" cy="1023.6" r="1.6"/><circle cx="680.5" cy="1011.6" r="1.6"/><circle cx="640.6" cy="1009.2" r="2.4"/><circle cx="672.0" cy="1178.6" r="3.7"/><circle cx="629.8" cy="1073.2" r="4.1"/><circle cx="714.4" cy="870.5" r="5.0"/><circle cx="629.1" cy="957.6" r="1.6"/><circle cx="727.9" cy="990.0" r="4.5"/><circle cx="685.5" cy="937.9" r="4.8"/><circle cx="628.8" cy="1033.4" r="5.4"/><circle cx="755.0" cy="879.3" r="2.4"/><circle cx="742.2" cy="982.4" r="1.9"/><circle cx="647.7" cy="1059.7" r="5.2"/><circle cx="739.3" cy="944.2" r="3.2"/><circle cx="703.0" cy="1116.2" r="2.4"/><circle cx="732.4" cy="886.4" r="4.5"/><circle cx="657.7" cy="1176.5" r="4.1"/><circle cx="633.6" cy="1020.2" r="5.4"/><circle cx="713.5" cy="1037.2" r="2.4"/><circle cx="689.9" cy="933.1" r="5.0"/><circle cx="589.2" cy="1057.2" r="1.6"/><circle cx="627.0" cy="1124.9" r="1.6"/><circle cx="693.2" cy="1103.0" r="1.6"/><circle cx="703.6" cy="1182.5" r="3.2"/><circle cx="721.4" cy="900.1" r="5.2"/><circle cx="638.8" cy="1095.7" r="4.8"/><circle cx="655.3" cy="1149.3" r="2.4"/><circle cx="652.3" cy="1087.4" r="4.1"/><circle cx="703.7" cy="1126.6" r="1.6"/><circle cx="607.5" cy="992.0" r="5.0"/><circle cx="597.3" cy="997.6" r="5.2"/><circle cx="647.9" cy="932.0" r="4.8"/><circle cx="749.7" cy="922.0" r="3.2"/><circle cx="732.6" cy="989.4" r="1.6"/><circle cx="652.0" cy="1164.4" r="3.2"/><circle cx="655.1" cy="1134.3" r="2.4"/><circle cx="649.3" cy="1102.5" r="5.2"/><circle cx="755.9" cy="953.2" r="4.8"/><circle cx="706.6" cy="981.7" r="4.1"/><circle cx="696.4" cy="1057.3" r="5.0"/><circle cx="707.0" cy="1188.7" r="2.4"/><circle cx="624.2" cy="1094.7" r="1.9"/><circle cx="610.2" cy="958.4" r="4.5"/><circle cx="730.0" cy="850.6" r="1.6"/><circle cx="706.6" cy="992.3" r="5.0"/><circle cx="736.5" cy="978.0" r="5.4"/><circle cx="670.8" cy="1172.1" r="2.4"/><circle cx="671.2" cy="1166.7" r="4.1"/><circle cx="682.6" cy="940.0" r="5.4"/><circle cx="731.3" cy="839.4" r="1.9"/><circle cx="615.5" cy="965.3" r="5.4"/><circle cx="703.6" cy="1131.7" r="3.7"/><circle cx="612.4" cy="1025.4" r="4.5"/><circle cx="694.5" cy="1129.3" r="5.0"/><circle cx="620.2" cy="965.9" r="5.2"/><circle cx="728.5" cy="1161.7" r="4.5"/><circle cx="703.6" cy="1183.4" r="5.2"/><circle cx="714.5" cy="1110.5" r="1.9"/><circle cx="653.2" cy="967.9" r="5.4"/><circle cx="635.0" cy="1061.8" r="4.1"/><circle cx="731.7" cy="1205.1" r="5.4"/><circle cx="686.6" cy="922.5" r="3.2"/><circle cx="740.6" cy="1189.8" r="5.0"/><circle cx="690.9" cy="1150.4" r="4.1"/><circle cx="740.8" cy="874.8" r="3.2"/><circle cx="682.7" cy="1071.8" r="5.2"/><circle cx="651.3" cy="1102.7" r="4.1"/><circle cx="624.2" cy="1039.8" r="4.1"/><circle cx="668.2" cy="1143.0" r="1.9"/><circle cx="644.7" cy="1106.6" r="5.0"/><circle cx="720.6" cy="1029.3" r="4.8"/><circle cx="727.7" cy="932.2" r="4.5"/><circle cx="685.0" cy="1078.1" r="2.4"/><circle cx="693.0" cy="1046.3" r="5.2"/><circle cx="626.7" cy="980.3" r="5.2"/><circle cx="597.6" cy="969.7" r="2.4"/><circle cx="707.0" cy="938.8" r="4.5"/><circle cx="720.8" cy="1190.4" r="1.9"/><circle cx="683.1" cy="958.4" r="1.9"/><circle cx="716.3" cy="1181.5" r="1.9"/><circle cx="668.9" cy="1141.6" r="3.7"/><circle cx="618.9" cy="1111.5" r="5.2"/><circle cx="703.5" cy="1100.8" r="2.4"/><circle cx="724.3" cy="1154.4" r="4.8"/><circle cx="706.2" cy="893.2" r="3.7"/><circle cx="672.5" cy="981.7" r="4.1"/><circle cx="586.5" cy="1044.6" r="5.4"/><circle cx="711.3" cy="1030.0" r="4.5"/><circle cx="754.1" cy="964.9" r="3.7"/><circle cx="737.1" cy="1194.6" r="1.6"/><circle cx="713.0" cy="845.3" r="1.9"/><circle cx="728.6" cy="905.7" r="3.7"/><circle cx="671.3" cy="1099.0" r="4.5"/><circle cx="701.5" cy="1038.5" r="4.8"/><circle cx="718.4" cy="1105.1" r="1.6"/><circle cx="728.8" cy="888.9" r="5.0"/><circle cx="1268.1" cy="1104.4" r="4.1"/><circle cx="1254.5" cy="860.5" r="3.7"/><circle cx="1252.7" cy="1119.0" r="5.0"/><circle cx="1301.6" cy="913.9" r="4.1"/><circle cx="1275.4" cy="1000.0" r="4.5"/><circle cx="1234.8" cy="1199.1" r="2.4"/><circle cx="1240.4" cy="966.3" r="2.4"/><circle cx="1202.9" cy="909.1" r="4.1"/><circle cx="1219.8" cy="838.9" r="5.4"/><circle cx="1275.0" cy="1081.6" r="4.8"/><circle cx="1280.3" cy="1058.9" r="1.9"/><circle cx="1313.4" cy="1117.9" r="4.5"/><circle cx="1348.9" cy="978.8" r="5.0"/><circle cx="1270.0" cy="1022.3" r="4.1"/><circle cx="1249.7" cy="1014.5" r="5.2"/><circle cx="1233.8" cy="1031.4" r="5.4"/><circle cx="1328.5" cy="940.7" r="3.7"/><circle cx="1200.0" cy="906.3" r="3.7"/><circle cx="1263.2" cy="1203.3" r="4.8"/><circle cx="1240.0" cy="1031.3" r="1.6"/><circle cx="1267.8" cy="1042.7" r="4.1"/><circle cx="1288.1" cy="962.8" r="3.2"/><circle cx="1280.5" cy="931.0" r="5.4"/><circle cx="1253.5" cy="1126.3" r="4.5"/><circle cx="1250.9" cy="1157.3" r="2.4"/><circle cx="1324.0" cy="1057.3" r="3.7"/><circle cx="1336.1" cy="1054.9" r="1.9"/><circle cx="1320.3" cy="1083.9" r="4.5"/><circle cx="1236.9" cy="862.4" r="5.2"/><circle cx="1308.7" cy="970.9" r="3.7"/><circle cx="1220.3" cy="913.3" r="3.2"/><circle cx="1312.3" cy="1009.5" r="1.9"/><circle cx="1247.9" cy="962.7" r="3.7"/><circle cx="1304.3" cy="1101.1" r="3.2"/><circle cx="1214.8" cy="978.6" r="4.5"/><circle cx="1221.0" cy="965.8" r="5.0"/><circle cx="1240.1" cy="1023.6" r="1.6"/><circle cx="1317.9" cy="1111.9" r="4.1"/><circle cx="1287.5" cy="1105.9" r="1.9"/><circle cx="1256.6" cy="1013.0" r="5.2"/><circle cx="1221.1" cy="920.1" r="4.5"/><circle cx="1303.0" cy="1063.5" r="1.6"/><circle cx="1258.7" cy="1012.0" r="3.2"/><circle cx="1240.5" cy="1058.8" r="5.0"/><circle cx="1324.1" cy="1119.1" r="5.4"/><circle cx="1337.1" cy="1097.3" r="4.8"/><circle cx="1334.6" cy="931.9" r="1.6"/><circle cx="1197.2" cy="993.2" r="1.9"/><circle cx="1275.3" cy="1029.3" r="2.4"/><circle cx="1309.3" cy="1035.0" r="3.2"/><circle cx="1321.9" cy="993.5" r="4.8"/><circle cx="1201.5" cy="875.0" r="5.0"/><circle cx="1241.9" cy="1206.6" r="5.2"/><circle cx="1243.8" cy="1078.1" r="3.2"/><circle cx="1228.8" cy="1205.1" r="4.5"/><circle cx="1238.1" cy="917.2" r="4.5"/><circle cx="1284.3" cy="1022.3" r="5.0"/><circle cx="1226.9" cy="1046.4" r="4.5"/><circle cx="1320.1" cy="979.9" r="1.9"/><circle cx="1294.5" cy="1017.6" r="4.8"/><circle cx="1326.5" cy="954.2" r="4.5"/><circle cx="1340.8" cy="988.1" r="4.1"/><circle cx="1322.5" cy="972.7" r="1.6"/><circle cx="1262.6" cy="1062.2" r="4.1"/><circle cx="1299.9" cy="1004.4" r="3.7"/><circle cx="1318.1" cy="1127.1" r="1.9"/><circle cx="1330.7" cy="1123.7" r="3.7"/><circle cx="1282.5" cy="1103.5" r="5.4"/><circle cx="1255.1" cy="1012.7" r="1.9"/><circle cx="1242.0" cy="867.1" r="1.6"/><circle cx="1284.9" cy="1071.0" r="4.8"/><circle cx="1262.7" cy="1095.3" r="1.9"/><circle cx="1288.2" cy="1122.8" r="4.5"/><circle cx="1281.7" cy="1021.9" r="1.9"/><circle cx="1228.8" cy="1163.6" r="1.9"/><circle cx="1284.0" cy="1011.6" r="3.2"/><circle cx="1282.8" cy="991.1" r="4.5"/><circle cx="1295.2" cy="1104.2" r="4.5"/><circle cx="1229.3" cy="1019.5" r="5.2"/><circle cx="1223.8" cy="840.6" r="5.0"/><circle cx="1290.6" cy="1023.5" r="5.2"/><circle cx="1341.6" cy="1104.6" r="4.8"/><circle cx="1290.8" cy="935.1" r="5.2"/><circle cx="1241.2" cy="1188.0" r="3.2"/><circle cx="1219.8" cy="1071.6" r="4.8"/><circle cx="1227.3" cy="880.0" r="5.4"/><circle cx="1243.5" cy="1159.6" r="5.2"/><circle cx="1292.8" cy="1022.8" r="4.1"/><circle cx="1218.4" cy="922.6" r="3.2"/><circle cx="1285.4" cy="1120.7" r="3.2"/><circle cx="1250.5" cy="1135.2" r="4.1"/><circle cx="1245.7" cy="1199.2" r="3.7"/><circle cx="1210.9" cy="972.1" r="5.4"/><circle cx="1267.1" cy="931.8" r="3.7"/><circle cx="1287.7" cy="984.2" r="1.9"/><circle cx="1263.5" cy="1116.1" r="5.2"/><circle cx="1294.8" cy="970.4" r="3.2"/><circle cx="1309.7" cy="1034.3" r="3.2"/><circle cx="1223.3" cy="1045.6" r="3.7"/><circle cx="1314.1" cy="924.5" r="4.1"/><circle cx="1242.2" cy="1169.0" r="1.9"/><circle cx="1209.1" cy="993.3" r="5.0"/><circle cx="1271.7" cy="1002.3" r="1.9"/><circle cx="1322.8" cy="970.7" r="1.9"/><circle cx="1286.4" cy="1021.1" r="5.0"/><circle cx="1232.0" cy="1134.8" r="3.7"/><circle cx="1286.9" cy="1119.8" r="1.6"/><circle cx="1276.0" cy="899.9" r="2.4"/><circle cx="1205.7" cy="885.0" r="1.6"/><circle cx="1235.1" cy="892.1" r="5.2"/><circle cx="1311.2" cy="1068.2" r="3.2"/><circle cx="1306.1" cy="1111.4" r="4.1"/><circle cx="1263.8" cy="1037.3" r="4.5"/><circle cx="1248.7" cy="892.4" r="4.1"/><circle cx="1325.5" cy="1094.7" r="5.2"/><circle cx="1304.6" cy="955.4" r="4.1"/><circle cx="1313.8" cy="961.7" r="1.9"/><circle cx="1313.9" cy="1127.4" r="4.5"/><circle cx="1290.5" cy="939.1" r="1.9"/><circle cx="1271.5" cy="1192.5" r="5.4"/><circle cx="1293.4" cy="997.9" r="5.2"/><circle cx="1223.1" cy="908.2" r="1.6"/><circle cx="1226.9" cy="847.6" r="1.9"/><circle cx="1241.4" cy="1171.3" r="4.1"/><circle cx="1228.7" cy="1191.5" r="1.6"/><circle cx="1197.8" cy="887.0" r="4.8"/><circle cx="1317.4" cy="1113.4" r="2.4"/><circle cx="1274.8" cy="910.0" r="1.6"/><circle cx="1309.2" cy="958.0" r="5.0"/><circle cx="1285.6" cy="920.4" r="5.4"/><circle cx="1241.4" cy="896.4" r="3.7"/><circle cx="1266.4" cy="1177.1" r="4.8"/><circle cx="1260.7" cy="908.1" r="5.4"/><circle cx="1303.8" cy="1033.0" r="1.6"/><circle cx="1215.1" cy="1207.2" r="5.0"/><circle cx="1264.5" cy="1016.1" r="4.1"/><circle cx="1233.2" cy="890.0" r="4.5"/><circle cx="1218.6" cy="1011.3" r="3.2"/><circle cx="1307.3" cy="1057.4" r="5.0"/><circle cx="1238.3" cy="985.5" r="3.2"/><circle cx="1316.2" cy="1013.0" r="4.1"/><circle cx="1244.8" cy="872.1" r="4.8"/><circle cx="1231.7" cy="1101.4" r="5.4"/><circle cx="1273.6" cy="1025.2" r="5.4"/><circle cx="1235.7" cy="901.5" r="1.6"/><circle cx="1260.8" cy="1172.9" r="1.9"/><circle cx="1231.1" cy="854.4" r="1.6"/><circle cx="1257.4" cy="1180.8" r="5.0"/><circle cx="1213.3" cy="862.8" r="5.4"/><circle cx="1319.5" cy="966.2" r="4.8"/><circle cx="1225.3" cy="1179.9" r="5.4"/><circle cx="1309.8" cy="1114.3" r="2.4"/><circle cx="1269.5" cy="1065.3" r="5.4"/><circle cx="1243.9" cy="1150.2" r="1.9"/><circle cx="1304.4" cy="947.0" r="4.5"/><circle cx="1238.7" cy="906.2" r="5.2"/><circle cx="1233.8" cy="991.1" r="1.6"/><circle cx="1288.2" cy="1155.9" r="4.1"/><circle cx="1274.4" cy="931.1" r="4.8"/><circle cx="1242.6" cy="906.7" r="5.4"/><circle cx="1295.8" cy="1057.4" r="1.6"/><circle cx="1271.0" cy="942.0" r="1.6"/><circle cx="1252.1" cy="1105.1" r="5.0"/><circle cx="1289.0" cy="911.3" r="4.1"/><circle cx="1288.8" cy="965.2" r="5.4"/><circle cx="1280.5" cy="1142.6" r="4.8"/><circle cx="1269.8" cy="1090.7" r="5.0"/><circle cx="1193.4" cy="975.4" r="3.2"/><circle cx="1210.3" cy="1213.0" r="5.2"/><circle cx="1302.9" cy="1076.4" r="1.9"/><circle cx="1208.3" cy="958.4" r="5.0"/><circle cx="1278.1" cy="938.2" r="4.5"/><circle cx="1241.3" cy="1135.5" r="3.2"/><circle cx="1258.2" cy="1056.1" r="2.4"/><circle cx="1307.4" cy="1053.4" r="4.5"/><circle cx="1328.9" cy="1056.8" r="4.8"/><circle cx="1264.2" cy="1125.2" r="5.4"/><circle cx="1214.4" cy="951.5" r="5.0"/><circle cx="1275.5" cy="1084.6" r="1.9"/><circle cx="1294.3" cy="1022.6" r="4.8"/><circle cx="1209.6" cy="915.9" r="5.2"/><circle cx="1226.4" cy="1024.0" r="4.8"/><circle cx="1246.2" cy="1069.8" r="4.5"/><circle cx="1290.8" cy="911.7" r="5.2"/><circle cx="1267.5" cy="1064.8" r="4.5"/><circle cx="1202.9" cy="949.3" r="5.2"/><circle cx="1211.4" cy="871.2" r="3.7"/><circle cx="1227.0" cy="980.5" r="3.7"/><circle cx="1198.7" cy="959.3" r="5.4"/><circle cx="1255.8" cy="1061.1" r="4.1"/><circle cx="1257.6" cy="1048.6" r="5.0"/><circle cx="1220.3" cy="895.2" r="5.2"/><circle cx="1282.0" cy="1113.3" r="5.0"/><circle cx="1196.4" cy="995.2" r="4.8"/><circle cx="1286.9" cy="985.7" r="5.2"/><circle cx="1292.2" cy="1012.3" r="1.6"/><circle cx="1249.8" cy="1001.4" r="1.9"/><circle cx="1309.0" cy="1044.1" r="3.2"/><circle cx="1262.6" cy="939.8" r="1.6"/><circle cx="1227.7" cy="987.4" r="5.4"/><circle cx="1301.7" cy="1150.7" r="1.9"/><circle cx="1337.6" cy="1060.7" r="1.6"/><circle cx="1243.9" cy="1101.3" r="4.1"/><circle cx="1320.8" cy="1104.4" r="3.2"/><circle cx="1229.1" cy="1075.3" r="5.2"/><circle cx="1278.1" cy="1028.5" r="5.2"/><circle cx="1225.1" cy="1003.5" r="5.2"/><circle cx="1239.7" cy="951.0" r="3.2"/><circle cx="1280.0" cy="993.1" r="4.8"/><circle cx="1238.2" cy="895.8" r="1.9"/><circle cx="1238.3" cy="1070.4" r="5.2"/><circle cx="1226.4" cy="1212.1" r="4.5"/><circle cx="1218.0" cy="874.0" r="2.4"/><circle cx="1227.9" cy="893.6" r="1.6"/><circle cx="1293.1" cy="945.7" r="4.1"/><circle cx="1291.7" cy="901.0" r="1.9"/><circle cx="1226.5" cy="1031.0" r="5.2"/><circle cx="1268.9" cy="1021.8" r="4.1"/><circle cx="1278.1" cy="1014.5" r="3.2"/><circle cx="1248.5" cy="948.4" r="1.6"/><circle cx="1214.5" cy="984.7" r="5.0"/><circle cx="1212.6" cy="987.2" r="5.4"/><circle cx="1317.3" cy="1112.1" r="4.1"/><circle cx="1230.6" cy="1032.2" r="5.0"/><circle cx="1265.2" cy="1200.8" r="2.4"/><circle cx="1356.9" cy="1051.1" r="1.9"/><circle cx="1218.1" cy="1179.8" r="3.2"/><circle cx="1227.6" cy="866.1" r="3.2"/><circle cx="1326.3" cy="973.1" r="5.0"/><circle cx="1253.0" cy="1209.0" r="3.2"/><circle cx="1217.0" cy="902.0" r="2.4"/><circle cx="1227.1" cy="1060.1" r="3.7"/><circle cx="1348.6" cy="1085.4" r="1.6"/><circle cx="1259.9" cy="893.6" r="5.4"/><circle cx="1286.1" cy="1108.8" r="1.6"/><circle cx="1301.7" cy="941.8" r="5.4"/><circle cx="1330.2" cy="931.4" r="1.9"/><circle cx="1359.5" cy="1038.4" r="4.1"/><circle cx="1311.2" cy="1009.8" r="3.2"/><circle cx="1324.5" cy="1026.4" r="5.2"/><circle cx="1355.1" cy="1022.6" r="1.6"/><circle cx="1285.1" cy="981.9" r="4.5"/><circle cx="1303.0" cy="897.2" r="4.5"/><circle cx="1306.5" cy="1108.2" r="1.6"/><circle cx="1281.8" cy="969.4" r="4.5"/><circle cx="1343.2" cy="1080.3" r="5.0"/><circle cx="1245.0" cy="1014.4" r="1.9"/><circle cx="1265.8" cy="1016.7" r="3.2"/><circle cx="1237.8" cy="1151.6" r="4.5"/><circle cx="1229.1" cy="944.5" r="2.4"/><circle cx="1258.7" cy="1106.2" r="5.4"/><circle cx="1231.4" cy="944.0" r="1.9"/><circle cx="1282.0" cy="1146.4" r="4.1"/><circle cx="1257.7" cy="929.1" r="4.1"/><circle cx="1234.1" cy="1069.5" r="3.7"/><circle cx="1259.1" cy="941.2" r="2.4"/><circle cx="1279.3" cy="1064.7" r="3.2"/><circle cx="1299.5" cy="1067.4" r="1.6"/><circle cx="1224.7" cy="975.0" r="3.2"/><circle cx="1307.9" cy="1098.4" r="5.0"/><circle cx="1277.9" cy="906.6" r="3.2"/><circle cx="1276.8" cy="953.2" r="5.4"/><circle cx="1302.9" cy="956.7" r="4.8"/><circle cx="1346.9" cy="1072.0" r="2.4"/><circle cx="1285.1" cy="947.8" r="2.4"/><circle cx="1281.5" cy="976.8" r="4.1"/><circle cx="1259.8" cy="902.1" r="5.2"/><circle cx="1250.2" cy="859.5" r="5.2"/><circle cx="1270.0" cy="1120.4" r="4.1"/><circle cx="1339.0" cy="1082.0" r="1.6"/><circle cx="1229.0" cy="1176.6" r="5.4"/><circle cx="1212.3" cy="916.0" r="4.8"/><circle cx="1300.7" cy="1070.8" r="3.7"/><circle cx="1325.1" cy="1068.0" r="5.4"/><circle cx="1298.4" cy="987.4" r="1.9"/><circle cx="1245.8" cy="988.1" r="2.4"/><circle cx="1330.6" cy="1052.9" r="2.4"/><circle cx="1210.6" cy="948.0" r="3.2"/><circle cx="1241.4" cy="851.0" r="2.4"/><circle cx="1237.5" cy="1005.8" r="1.6"/><circle cx="1227.1" cy="853.6" r="5.0"/><circle cx="1232.2" cy="1084.7" r="3.2"/><circle cx="1274.8" cy="1140.2" r="3.7"/><circle cx="1251.5" cy="962.9" r="1.9"/><circle cx="1283.7" cy="895.2" r="1.6"/><circle cx="1228.9" cy="1198.9" r="3.2"/><circle cx="1305.0" cy="1033.0" r="3.2"/><circle cx="1285.0" cy="995.9" r="3.2"/><circle cx="1268.3" cy="880.3" r="4.5"/><circle cx="1312.3" cy="1081.8" r="2.4"/><circle cx="1353.8" cy="1067.3" r="5.0"/><circle cx="1353.3" cy="1055.6" r="4.5"/><circle cx="1305.5" cy="1083.3" r="4.1"/><circle cx="1255.8" cy="930.9" r="3.7"/><circle cx="1340.7" cy="1069.4" r="4.5"/><circle cx="1240.1" cy="894.2" r="2.4"/><circle cx="1338.0" cy="989.2" r="2.4"/><circle cx="1230.4" cy="860.8" r="3.2"/><circle cx="1272.9" cy="1150.2" r="3.2"/><circle cx="1329.3" cy="1102.0" r="1.9"/></g>
<path d="M435,780 H495 A40,40 0 0 1 535,820 V1285 A40,40 0 0 0 575,1325 H935 A40,40 0 0 0 975,1285 V540" fill="none" stroke="#e30613" stroke-width="25"/>
<path d="M863.8,580 V544 A37,37 0 0 1 900.8,507 H938 A37,37 0 0 1 975,544 A37,37 0 0 1 1012,507 H1049.2 A37,37 0 0 1 1086.2,544 V580" fill="none" stroke="#e30613" stroke-width="24.5"/>
<path d="M851.5,560 L854,630 Q857.5,693 854,756 Q850,790 824.8,835 Q815,815 799.6,797 Q804,845 792.6,893.5 Q840,877 889.6,879.3 Q862,868 843.8,854 Q873,810 878.6,756 Q883.5,693 880,630 L876,560Z" fill="#e30613"/>
<g transform="translate(1950.4,0) scale(-1,1)"><path d="M851.5,560 L854,630 Q857.5,693 854,756 Q850,790 824.8,835 Q815,815 799.6,797 Q804,845 792.6,893.5 Q840,877 889.6,879.3 Q862,868 843.8,854 Q873,810 878.6,756 Q883.5,693 880,630 L876,560Z" fill="#e30613"/></g>
<rect x="896" y="51.2" width="86.5" height="86.3" fill="#e30613"/>
<text x="917.7" y="124" font-family="Liberation Sans, Arial, sans-serif" font-weight="700" font-size="85" fill="#fff">1</text>
<rect x="913" y="112" width="24.1" height="14" fill="#e30613"/><rect x="950.6" y="112" width="24" height="14" fill="#e30613"/>
<text transform="translate(1004.7,122.1) scale(1,1)" x="-2.95 52.52 109.71 161.57" y="0" font-family="Liberation Sans, Arial, sans-serif" font-weight="700" font-size="78" fill="#3c3c3b" stroke="#3c3c3b" stroke-width="4" stroke-linejoin="miter">PUSH</text>
<text transform="translate(1239,122.6) scale(1,1)" x="-2.31 44.54" y="0" font-family="Liberation Sans, Arial, sans-serif" font-weight="700" font-size="84" fill="#3c3c3b" stroke="#3c3c3b" stroke-width="0.8" stroke-linejoin="miter">6x</text>
<rect x="148" y="297.5" width="87.5" height="87" fill="#e30613"/>
<text transform="translate(171,370.3) scale(1.06,1)" x="-1.64" y="0" font-family="Liberation Sans, Arial, sans-serif" font-weight="700" font-size="78" fill="#fff" stroke="#fff" stroke-width="2" stroke-linejoin="miter">2</text>
<text transform="translate(149.8,450.4) scale(0.86,1)" x="-3.56 36.68 57.93 97.02 133.78 175.08" y="0" font-family="Liberation Sans, Arial, sans-serif" font-weight="700" font-size="54.2" fill="#3c3c3b" stroke="#3c3c3b" stroke-width="3.6" stroke-linejoin="miter">FILTER</text>
<text transform="translate(147.9,501.6) scale(0.86,1)" x="-2.48 42.23 79.89 121.88 174.33 222.74 264.58" y="0" font-family="Liberation Sans, Arial, sans-serif" font-weight="700" font-size="54.2" fill="#3c3c3b" stroke="#3c3c3b" stroke-width="3.6" stroke-linejoin="miter">CLEANED</text>
<polygon points="167,587.7 219,652.5 351.7,532.8 338,517.7 221,622.7 182.4,575.3" fill="#009640"/>
<g fill="none" stroke="#009ee3" stroke-width="13.5"><path d="M124,791.5 H281"/><path d="M210.8,732 V729 A25,25 0 1 0 185.8,754 H330"/><path d="M302,728.5 L328.5,754 L302,779.5"/><path d="M210.8,851 V853.5 A25,25 0 1 1 185.8,828.3 H330"/><path d="M302,802.5 L328.5,828.3 L302,854"/></g>
</svg></body></html>
